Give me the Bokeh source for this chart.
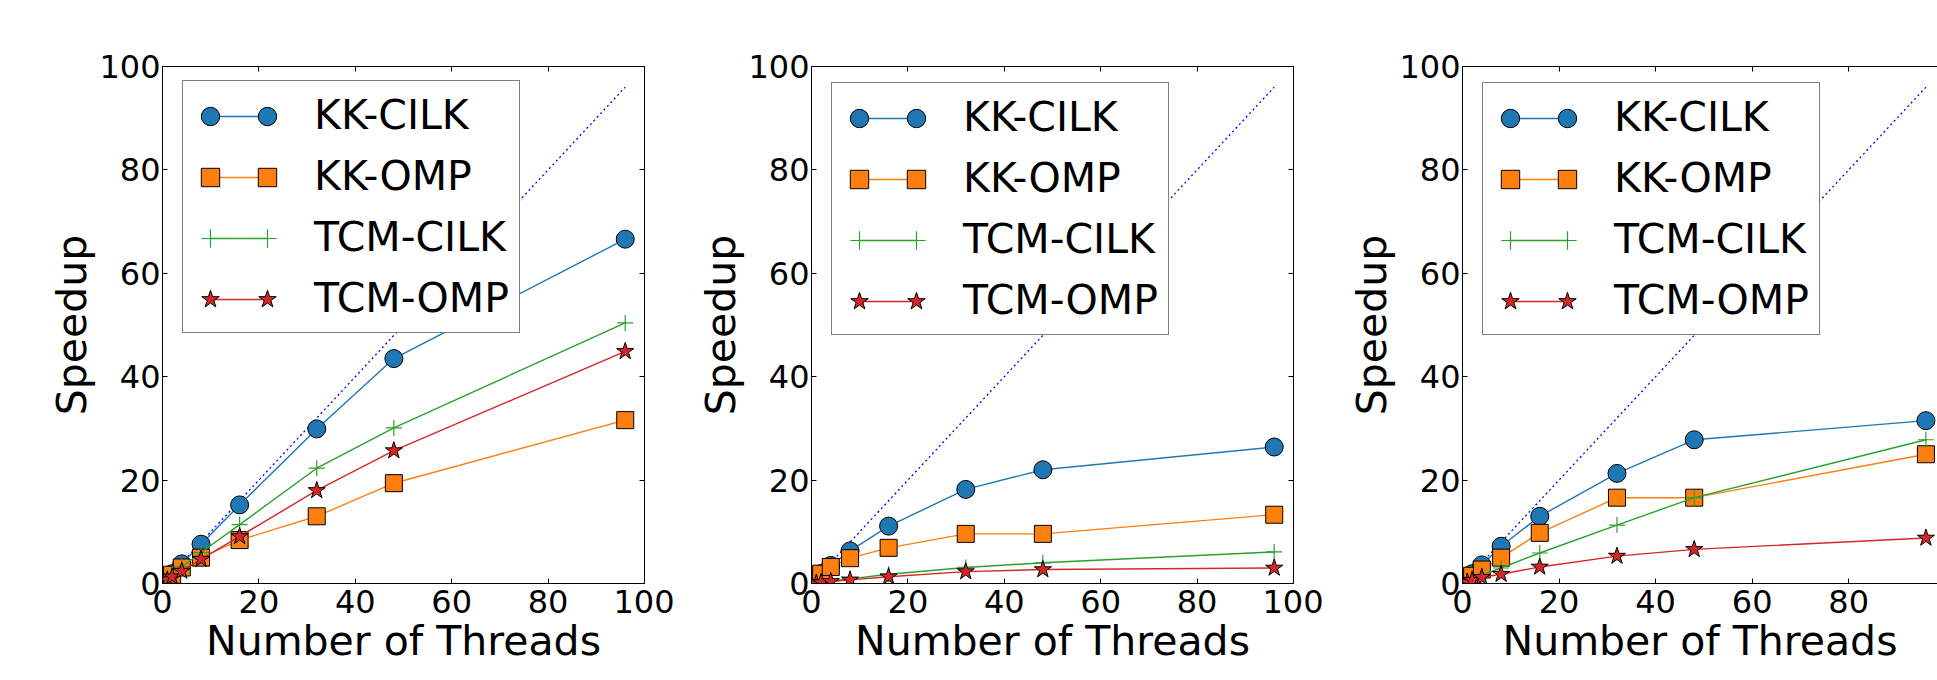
from bokeh.plotting import figure
from bokeh.models import Range1d, LinearAxis, FixedTicker, Legend, LegendItem, CustomJSTickFormatter, Label
from bokeh.layouts import row
from bokeh.embed import file_html
from bokeh.resources import INLINE

# ---------------- data ----------------
threads = [1, 2, 4, 8, 16, 32, 48, 96]
ideal = [1, 2, 4, 8, 16, 32, 48, 96]
series_names = ["KK-CILK", "KK-OMP", "TCM-CILK", "TCM-OMP"]
tick_values = [0, 20, 40, 60, 80, 100]

kk_cilk_1 = [1.0, 1.9, 3.8, 7.6, 15.2, 29.9, 43.5, 66.6]
kk_omp_1 = [0.9, 1.7, 3.1, 5.0, 8.4, 13.0, 19.4, 31.6]
tcm_cilk_1 = [1.0, 1.8, 3.2, 6.0, 11.4, 22.3, 30.1, 50.4]
tcm_omp_1 = [0.7, 1.3, 2.4, 4.7, 9.1, 18.0, 25.7, 44.9]

kk_cilk_2 = [1.0, 1.9, 3.5, 6.3, 11.1, 18.2, 22.0, 26.4]
kk_omp_2 = [1.0, 1.9, 3.2, 4.9, 6.9, 9.6, 9.6, 13.3]
tcm_cilk_2 = [0.2, 0.3, 0.5, 0.9, 1.8, 3.1, 4.0, 6.1]
tcm_omp_2 = [0.1, 0.2, 0.4, 0.7, 1.3, 2.3, 2.7, 3.0]

kk_cilk_3 = [1.0, 1.9, 3.6, 7.2, 13.0, 21.3, 27.8, 31.5]
kk_omp_3 = [0.8, 1.5, 2.7, 5.0, 9.8, 16.6, 16.6, 25.0]
tcm_cilk_3 = [0.5, 0.9, 1.6, 3.0, 5.9, 11.3, 16.6, 27.8]
tcm_omp_3 = [0.3, 0.6, 1.2, 1.8, 3.2, 5.3, 6.6, 8.8]

# ---------------- styles ----------------
FONT = "DejaVu Sans"
COLORS = ["#1f77b4", "#ff7f0e", "#2ca02c", "#d62728"]
MARKERS = ["circle", "square", "cross", "star"]
SIZES = [18, 17, 16, 18]
LEG_FONT = "41px"


def style_axis(ax, tick_standoff=2, label_standoff=6, show_labels=True):
    ax.ticker = FixedTicker(ticks=tick_values)
    ax.minor_tick_line_color = None
    ax.major_tick_in = 5
    ax.major_tick_out = 0
    ax.major_tick_line_color = "black"
    ax.axis_line_color = "black"
    ax.axis_line_width = 1
    ax.major_label_text_font = FONT
    ax.major_label_text_font_size = "32px"
    ax.major_label_text_color = "black"
    ax.major_label_standoff = tick_standoff
    ax.axis_label_text_font = FONT
    ax.axis_label_text_font_size = "41px"
    ax.axis_label_text_font_style = "normal"
    ax.axis_label_text_color = "black"
    ax.axis_label_standoff = label_standoff
    if not show_labels:
        ax.formatter = CustomJSTickFormatter(code="return ''")


def make_legend(items, loc, padding, glyph_width, standoff, boxed):
    leg = Legend(items=items, location=loc, margin=0, padding=padding, spacing=13,
                 glyph_width=glyph_width, glyph_height=46, label_height=48,
                 label_standoff=standoff, label_text_font=FONT,
                 label_text_font_size=LEG_FONT, label_text_color="black")
    if boxed:
        leg.border_line_color = "black"
        leg.border_line_width = 1
        leg.background_fill_color = "white"
        leg.background_fill_alpha = 1
    else:
        leg.border_line_color = None
        leg.background_fill_alpha = 0
    return leg


def make_panel(series, width, height, min_left, min_right, min_top, frame_h, x_end, right_axis):
    p = figure(width=width, height=height, output_backend="svg", toolbar_location=None,
               x_range=Range1d(0, x_end), y_range=Range1d(0, 100),
               min_border_left=min_left, min_border_right=min_right,
               min_border_top=min_top, min_border_bottom=height - min_top - frame_h)
    p.outline_line_color = None
    p.grid.visible = False
    p.background_fill_color = "white"
    p.border_fill_color = "white"

    style_axis(p.xaxis[0], tick_standoff=6, label_standoff=1)
    style_axis(p.yaxis[0], tick_standoff=2, label_standoff=0)
    p.xaxis[0].axis_label = "Number of Threads"
    p.yaxis[0].axis_label = "Speedup"

    top = LinearAxis()
    style_axis(top, show_labels=False)
    p.add_layout(top, "above")
    if right_axis:
        rgt = LinearAxis()
        style_axis(rgt, show_labels=False)
        p.add_layout(rgt, "right")
    else:
        # last x tick label, partly cut by the page edge
        p.add_layout(Label(x=tick_values[-1], y=0, y_offset=-6, text=str(tick_values[-1]),
                           text_align="center", text_baseline="top", text_font=FONT,
                           text_font_size="32px", text_color="black"))

    p.line(threads, ideal, line_color="#0000ff", line_width=1.3, line_dash="2 3")

    main_items, line_items, left_items, right_items = [], [], [], []
    for name, vals, color, marker, size in zip(series_names, series, COLORS, MARKERS, SIZES):
        lr = p.line(threads, vals, line_color=color, line_width=1.4)
        if marker == "cross":
            sr = p.scatter(threads, vals, marker=marker, size=size, line_color=color,
                           line_width=1.2, fill_color=None)
        else:
            sr = p.scatter(threads, vals, marker=marker, size=size, fill_color=color,
                           line_color="black", line_width=1)
        main_items.append(LegendItem(label=name, renderers=[lr]))
        line_items.append(LegendItem(label=" ", renderers=[lr]))
        left_items.append(LegendItem(label=" ", renderers=[sr]))
        right_items.append(LegendItem(label=" ", renderers=[sr]))

    # legend box: 20 px from frame left, ~20 px from frame top, 251 px tall
    box_left = 20
    box_bottom = frame_h - 20 - 251
    # boxed legend carries the labels (zero-width glyph)
    p.add_layout(make_legend(main_items, (box_left, box_bottom), 10, 0, 121, True))
    # overlay legends (unboxed legends get no padding): line between two markers
    p.add_layout(make_legend(line_items, (box_left + 28, box_bottom + 10), 0, 57, 0, False))
    p.add_layout(make_legend(left_items, (box_left + 5, box_bottom + 10), 0, 46, 0, False))
    p.add_layout(make_legend(right_items, (box_left + 62, box_bottom + 10), 0, 46, 0, False))
    return p


p1 = make_panel([kk_cilk_1, kk_omp_1, tcm_cilk_1, tcm_omp_1], 674, 672, 162, 30, 62, 521, 100, True)
p2 = make_panel([kk_cilk_2, kk_omp_2, tcm_cilk_2, tcm_omp_2], 649, 672, 137, 30, 66, 519, 100, True)
p3 = make_panel([kk_cilk_3, kk_omp_3, tcm_cilk_3, tcm_omp_3], 614, 672, 139, 0, 66, 519, 98.4, False)

layout = row(p1, p2, p3)
open("out.html", "w").write(file_html(layout, INLINE))
